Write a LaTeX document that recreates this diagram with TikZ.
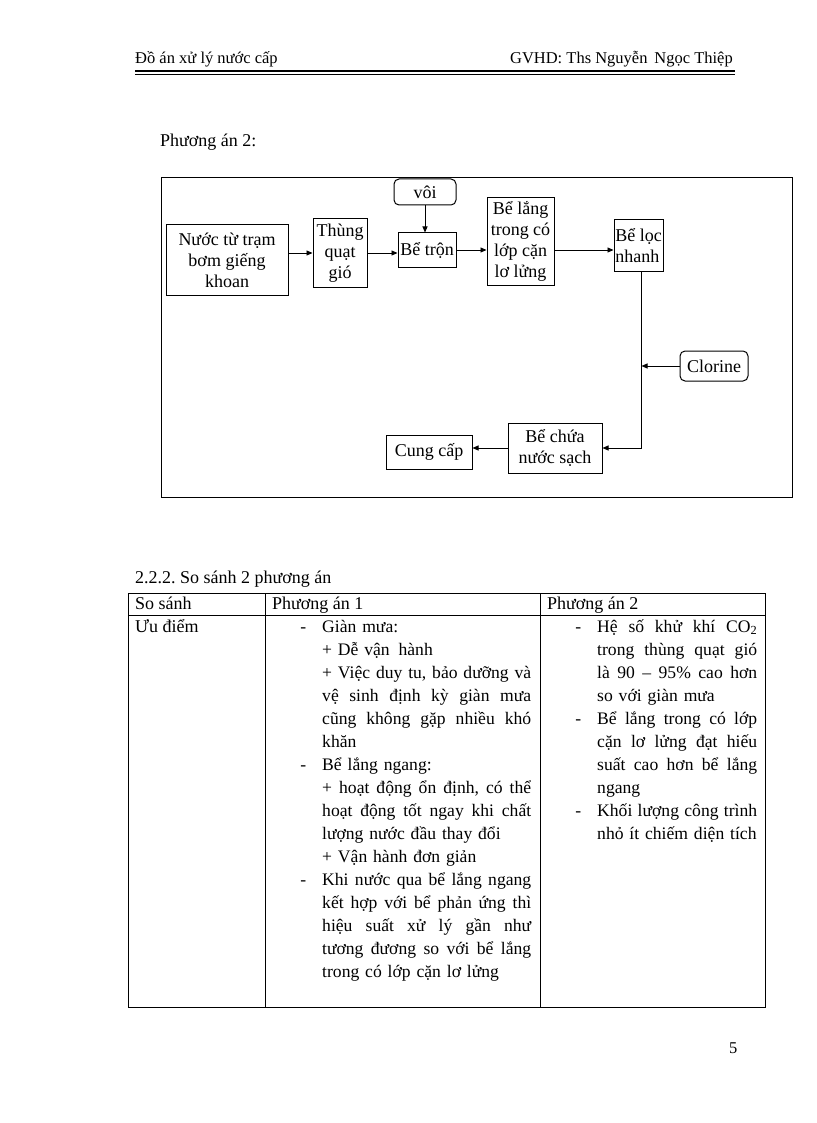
\documentclass[tikz,border=0pt]{standalone}
\usepackage{fontspec}
\setmainfont{Liberation Serif}
\usetikzlibrary{arrows.meta,positioning}
\frenchspacing

\tikzset{
  box/.style={draw,line width=1pt,inner sep=1pt,align=center,font=\fontsize{18}{21}\selectfont},
  rbox/.style={box,rounded corners=5pt},
  flow/.style={-{Triangle[length=6pt,width=5pt]},line width=0.9pt},
  body/.style={inner sep=0pt,anchor=base west,font=\fontsize{18}{23}\selectfont},
  cell/.style={body,align=left,font=\fontsize{17.6}{23}\selectfont},
  head/.style={inner sep=0pt,font=\fontsize{16.5}{20}\selectfont},
}
% justified lines of the two table columns
\newcommand{\jb}[1]{{\spaceskip=0pt\xspaceskip=0pt\makebox[209pt][s]{#1}}}
\newcommand{\jc}[1]{{\spaceskip=0pt\xspaceskip=0pt\makebox[160pt][s]{#1}}}
\newcommand{\dashitem}{\leavevmode\llap{-\hspace{16pt}}}

\begin{document}
\begin{tikzpicture}[x=1pt,y=-1pt]
    \useasboundingbox (0,0) rectangle (816,1123);
    % page header
    \node[head,anchor=base west] (title) at (135,64) {Đồ án xử lý nước cấp};
    \node[head,anchor=base east] (gvhd) at (733,64) {GVHD: Ths Nguyễn \,Ngọc Thiệp};
    \draw[line width=2.6pt] (135,71) -- (735,71);
    \draw[line width=0.8pt] (135,74.6) -- (735,74.6);

    \node[body] (pa2) at (160,147) {Phương án 2:};

    % flow chart
    \draw[line width=1pt] (161,178) rectangle (792,497);
    \node[box,minimum width=122,minimum height=70] (nuoc) at (227,260) {Nước từ trạm\\bơm giếng\\khoan};
    \node[box,minimum width=54,minimum height=68] (thung) at (340,253) {Thùng\\quạt\\gió};
    \node[rbox,minimum width=62,minimum height=26] (voi) at (425,192) {vôi};
    \node[box,minimum width=58,minimum height=34] (tron) at (427,250) {Bể trộn};
    \node[box,minimum width=67,minimum height=87] (lang) at (520.5,241.5) {Bể lắng\\trong có\\lớp cặn\\lơ lửng};
    \node[box,minimum width=49,minimum height=51,align=left] (loc) at (638.5,245.5) {Bể lọc\\nhanh};
    \node[rbox,minimum width=68,minimum height=30] (clorine) at (714,366) {Clorine};
    \node[box,minimum width=94,minimum height=50] (chua) at (555,448) {Bể chứa\\nước sạch};
    \node[box,minimum width=86,minimum height=34] (cungcap) at (429,452) {Cung cấp};
    \coordinate (drop) at ([xshift=3pt]loc.south);

    \draw[flow] (nuoc.east |- thung.east) -- (thung.west);
    \draw[flow] (thung.east) -- (tron.west |- thung.east);
    \draw[flow] (voi.south) -- (voi.south |- tron.north);
    \draw[flow] (tron.east) -- (tron.east -| lang.west);
    \draw[flow] (lang.east |- tron.east) -- (loc.west |- tron.east);
    \draw[flow] (drop) |- (chua.east);
    \draw[flow] (clorine.west) -- (clorine.west -| drop);
    \draw[flow] (chua.west) -- (chua.west -| cungcap.east);

    % comparison table
    \node[body] (sec) at (135,583) {2.2.2. So sánh 2 phương án};
    \draw[line width=1pt] (128,593) rectangle (765,1007);
    \draw[line width=1pt] (128,615) -- (765,615);
    \draw[line width=1pt] (265,593) -- (265,1007);
    \draw[line width=1pt] (540,593) -- (540,1007);

    \node[body] (h1) at (135,609) {So sánh};
    \node[body] (h2) at (272,609) {Phương án 1};
    \node[body] (h3) at (547,609) {Phương án 2};
    \node[body] (uu) at (135,632) {Ưu điểm};

    \node[cell,text width=230pt] (pa1) at (322,632) {%
      \dashitem Giàn mưa:\\
      + Dễ vận \,hành\\
      \jb{+ Việc duy tu, bảo dưỡng và}\\
      \jb{vệ sinh định kỳ giàn mưa}\\
      \jb{cũng không gặp nhiều khó}\\
      khăn\\
      \dashitem Bể lắng ngang:\\
      \jb{+ hoạt động ổn định, có thể}\\
      \jb{hoạt động tốt ngay khi chất}\\
      lượng nước đầu thay đổi\\
      + Vận hành đơn giản\\
      \dashitem\jb{Khi nước qua bể lắng ngang}\\
      \jb{kết hợp với bể phản ứng thì}\\
      \jb{hiệu suất xử lý gần như}\\
      \jb{tương đương so với bể lắng}\\
      trong có lớp cặn lơ lửng};

    \node[cell,text width=190pt] (pa2t) at (597,632) {%
      \dashitem\jc{Hệ số khử khí CO\textsubscript{2}}\\
      \jc{trong thùng quạt gió}\\
      \jc{là 90 – 95\% cao hơn}\\
      so với giàn mưa\\
      \dashitem\jc{Bể lắng trong có lớp}\\
      \jc{cặn lơ lửng đạt hiếu}\\
      \jc{suất cao hơn bể lắng}\\
      ngang\\
      \dashitem\jc{Khối lượng công trình}\\
      nhỏ ít chiếm diện tích};

    \node[head,anchor=base west] (pageno) at (729,1053) {5};
\end{tikzpicture}
\end{document}
